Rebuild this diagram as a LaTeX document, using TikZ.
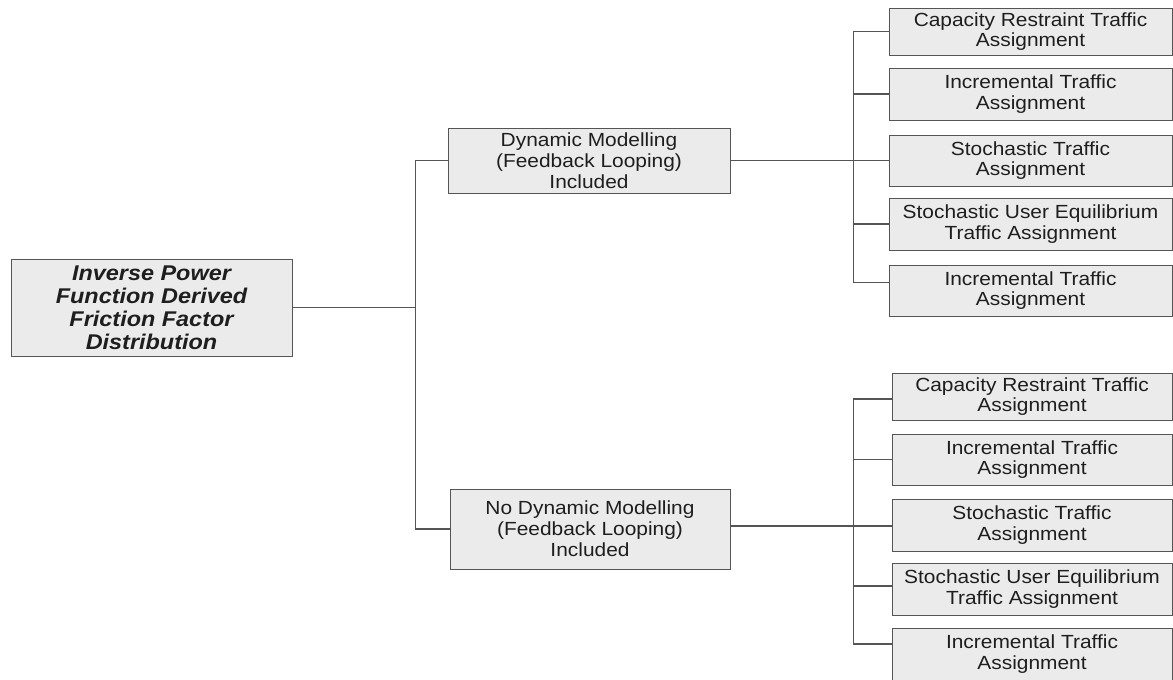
\documentclass[tikz,border=0pt]{standalone}
\usepackage{fontspec}
\setmainfont{Liberation Sans}[FakeStretch=1.1]
\usetikzlibrary{calc}
\definecolor{boxfill}{HTML}{EBEBEB}
\definecolor{boxline}{HTML}{555555}
\definecolor{txt}{HTML}{1E1E1E}
\begin{document}
\begin{tikzpicture}[x=1pt,y=-1pt,
  box/.style={draw=boxline, fill=boxfill, line width=1pt, align=center, inner sep=0pt,
    text=txt, font=\fontsize{19}{20.8}\selectfont},
  leaf/.style={box, minimum width=283pt, minimum height=50pt},
  conn/.style={draw=boxline, line width=1.1pt}]
\useasboundingbox (0,0) rectangle (1173,680);
\node[box, minimum width=281pt, minimum height=97pt, font=\fontsize{21.3}{23}\selectfont\bfseries\itshape] (root) at (151.5,307.5)
  {Inverse Power\\Function Derived\\Friction Factor\\Distribution};
\node[box, minimum width=282pt, minimum height=65pt] (m1) at (589,160.5)
  {Dynamic Modelling\\(Feedback Looping)\\Included};
\node[box, minimum width=280pt, minimum height=80pt] (m2) at (590,529)
  {No Dynamic Modelling\\(Feedback Looping)\\Included};
% upper leaves
\node[leaf, minimum height=47pt] (a1) at (1030.5,31.5) {Capacity Restraint Traffic\\Assignment};
\node[leaf, minimum height=52pt] (a2) at (1030.5,94) {Incremental Traffic\\Assignment};
\node[leaf, minimum height=51pt] (a3) at (1030.5,160.5) {Stochastic Traffic\\Assignment};
\node[leaf, minimum height=52pt] (a4) at (1030.5,224) {Stochastic User Equilibrium\\Traffic Assignment};
\node[leaf, minimum height=51pt] (a5) at (1030.5,290.5) {Incremental Traffic\\Assignment};
% lower leaves
\node[leaf, minimum width=280pt, minimum height=47pt] (b1) at (1032,396.5) {Capacity Restraint Traffic\\Assignment};
\node[leaf, minimum width=280pt, minimum height=51pt] (b2) at (1032,459.5) {Incremental Traffic\\Assignment};
\node[leaf, minimum width=280pt, minimum height=52pt] (b3) at (1032,525) {Stochastic Traffic\\Assignment};
\node[leaf, minimum width=280pt, minimum height=52pt] (b4) at (1032,589) {Stochastic User Equilibrium\\Traffic Assignment};
\node[leaf, minimum width=280pt, minimum height=52pt] (b5) at (1032,654) {Incremental Traffic\\Assignment};
% trunk
\coordinate (t) at (415.5,307.5);
\draw[conn] (root.east) -- (t);
\draw[conn] (m1.west) -| (t) |- (m2.west);
% upper bus
\coordinate (u) at (853.5,160.5);
\draw[conn] (m1.east) -- (u);
\draw[conn] (a1.west) -| (u);
\draw[conn] (a2.west) -| (u);
\draw[conn] (a3.west) -- (u);
\draw[conn] (a4.west) -| (u);
\draw[conn] ($(a5.west)+(0,-8)$) -| (u);
% lower bus
\coordinate (l) at (853.5,526);
\draw[conn] (m2.east |- l) -- (l);
\draw[conn] ($(b1.west)+(0,2.5)$) -| (l);
\draw[conn] (b2.west) -| (l);
\draw[conn] (b3.west |- l) -- (l);
\draw[conn] ($(b4.west)+(0,-3)$) -| (l);
\draw[conn] ($(b5.west)+(0,-10)$) -| (l);
\end{tikzpicture}
\end{document}
